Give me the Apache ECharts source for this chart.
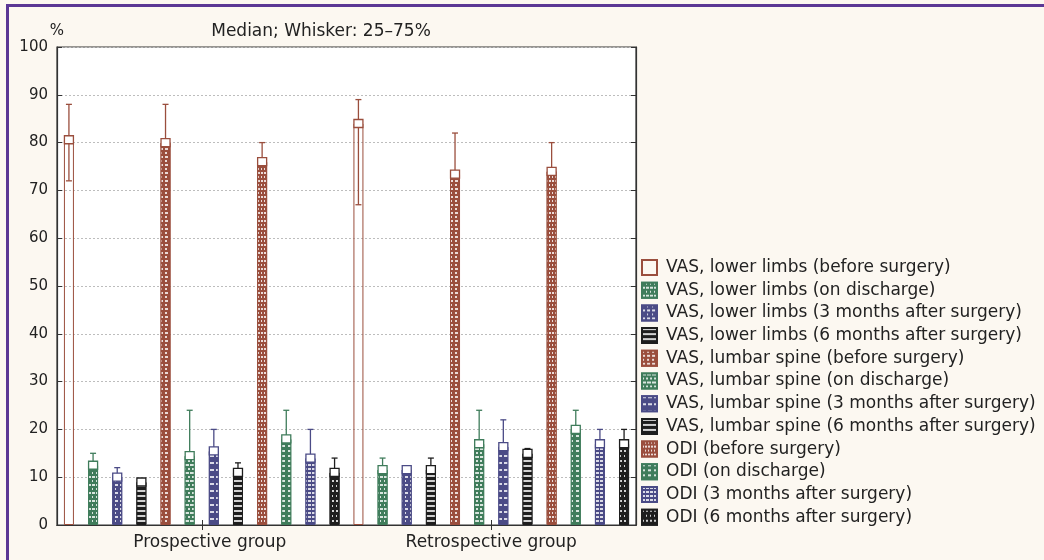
<!DOCTYPE html>
<html>
<head>
<meta charset="utf-8">
<script src="https://cdn.jsdelivr.net/npm/echarts@6/dist/echarts.min.js"></script>
<style>
html,body{margin:0;padding:0;background:#fcf8f1;}
#frame{position:absolute;left:6px;top:4px;width:1038px;height:556px;border-top:3px solid #5b3795;border-left:3px solid #5b3795;box-sizing:border-box;}
#chart{position:absolute;left:0;top:0;width:1044px;height:560px;}
</style>
</head>
<body>
<div id="frame"></div>
<div id="chart"></div>
<script>
// ---- data ----
const categories = ['Prospective group', 'Retrospective group'];
const seriesNames = [
  'VAS, lower limbs (before surgery)',
  'VAS, lower limbs (on discharge)',
  'VAS, lower limbs (3 months after surgery)',
  'VAS, lower limbs (6 months after surgery)',
  'VAS, lumbar spine (before surgery)',
  'VAS, lumbar spine (on discharge)',
  'VAS, lumbar spine (3 months after surgery)',
  'VAS, lumbar spine (6 months after surgery)',
  'ODI (before surgery)',
  'ODI (on discharge)',
  'ODI (3 months after surgery)',
  'ODI (6 months after surgery)'
];
const medianProspective = [80.6, 12.5, 10, 9, 80, 14.5, 15.5, 11, 76, 18, 14, 11];
const q1Prospective     = [72, 9, 7, 7, 72, 10, 11, 8, 70, 12, 10, 6];
const q3Prospective     = [88, 15, 12, 9, 88, 24, 20, 13, 80, 24, 20, 14];
const medianRetrospective = [84, 11.6, 11.6, 11.6, 73.4, 17, 16.4, 15, 74, 20, 17, 17];
const q1Retrospective     = [67, 9, 9, 9, 65, 12, 12, 12, 65, 15, 12, 12];
const q3Retrospective     = [89, 14, 11.6, 14, 82, 24, 22, 16, 80, 24, 20, 20];
const yTicks = [0, 10, 20, 30, 40, 50, 60, 70, 80, 90, 100];

// ---- styles ----
const BROWN = '#9a4e3d', GREEN = '#3f7c5b', NAVY = '#4b4b86', BLACK = '#1e1e1e';
const colors = [BROWN, GREEN, NAVY, BLACK, BROWN, GREEN, NAVY, BLACK, BROWN, GREEN, NAVY, BLACK];
const W = 'rgba(255,255,255,0.8)';
const decals = [
  null,
  {symbol:'rect', color:W, dashArrayX:[[3,1],[1,3]], dashArrayY:[1.5,1.5], symbolSize:1},
  {symbol:'rect', color:W, dashArrayX:[[3,2],[1,4]], dashArrayY:[1.5,2], symbolSize:1},
  {symbol:'rect', color:W, dashArrayX:[[12,0]], dashArrayY:[1.5,2.5], symbolSize:1},
  {symbol:'rect', color:W, dashArrayX:[[3,2],[2,3]], dashArrayY:[1.5,1.5], symbolSize:1},
  {symbol:'rect', color:W, dashArrayX:[[2,2],[4,1]], dashArrayY:[1.5,2], symbolSize:1},
  {symbol:'rect', color:W, dashArrayX:[[4,2]], dashArrayY:[2,5], symbolSize:1},
  {symbol:'rect', color:W, dashArrayX:[[12,0]], dashArrayY:[1.5,3], symbolSize:1},
  {symbol:'rect', color:W, dashArrayX:[[2,1],[1,2]], dashArrayY:[1.5,1.5], symbolSize:1},
  {symbol:'rect', color:W, dashArrayX:[[3,3]], dashArrayY:[1.5,3], symbolSize:1},
  {symbol:'rect', color:W, dashArrayX:[[3,1]], dashArrayY:[1.5,2], symbolSize:1},
  {symbol:'rect', color:W, dashArrayX:[[1,3],[2,2]], dashArrayY:[1.5,2.5], symbolSize:1}
];
const BAR_W = 10, SLOT = 24.15;
const FONT = 'DejaVu Sans';

const medians = [medianProspective, medianRetrospective];
const q1s = [q1Prospective, q1Retrospective];
const q3s = [q3Prospective, q3Retrospective];

const series = [];
seriesNames.forEach((name, i) => {
  series.push({
    name: name,
    type: 'bar',
    z: 2,
    barWidth: BAR_W,
    barGap: ((SLOT - BAR_W) / BAR_W * 100) + '%',
    data: categories.map((c, k) => medians[k][i]),
    itemStyle: {
      color: i === 0 ? 'rgba(255,255,255,0)' : colors[i],
      borderColor: colors[i],
      borderWidth: 1,
      decal: decals[i] || undefined
    },
    emphasis: {disabled: true}
  });
});
seriesNames.forEach((name, i) => {
  const col = colors[i];
  series.push({
    type: 'custom',
    z: 1,
    silent: true,
    encode: {x: 0, y: [1, 2]},
    data: categories.map((c, k) => [k, q1s[k][i], q3s[k][i]]),
    renderItem: function (params, api) {
      const c = api.value(0);
      const lo = api.coord([c, api.value(1)]);
      const hi = api.coord([c, api.value(2)]);
      const x = lo[0] + (i - 5.5) * SLOT;
      const st = {stroke: col, lineWidth: 1.3};
      return {type: 'group', children: [
        {type: 'line', shape: {x1: x, y1: lo[1], x2: x, y2: hi[1]}, style: st},
        {type: 'line', shape: {x1: x - 3, y1: hi[1], x2: x + 3, y2: hi[1]}, style: st},
        {type: 'line', shape: {x1: x - 3, y1: lo[1], x2: x + 3, y2: lo[1]}, style: st}
      ]};
    }
  });
  series.push({
    type: 'custom',
    z: 3,
    silent: true,
    encode: {x: 0, y: 1},
    data: categories.map((c, k) => [k, medians[k][i]]),
    renderItem: function (params, api) {
      const p = api.coord([api.value(0), api.value(1)]);
      const x = p[0] + (i - 5.5) * SLOT;
      return {type: 'rect', shape: {x: x - 4.5, y: p[1] - 4, width: 9, height: 8},
        style: {fill: '#fff', stroke: col, lineWidth: 1.3}};
    }
  });
});

const chart = echarts.init(document.getElementById('chart'), null, {renderer: 'canvas'});
chart.setOption({
  animation: false,
  backgroundColor: 'transparent',
  textStyle: {fontFamily: FONT},
  title: {
    text: 'Median; Whisker: 25–75%',
    left: 316, top: 18, textAlign: 'center',
    textStyle: {fontFamily: FONT, fontSize: 17, fontWeight: 'normal', color: '#222'}
  },
  legend: {
    orient: 'vertical',
    left: 641, top: 259,
    padding: 0,
    icon: 'rect',
    itemWidth: 15, itemHeight: 15,
    itemGap: 5.7,
    selectedMode: false,
    data: seriesNames,
    textStyle: {fontFamily: FONT, fontSize: 17, color: '#222', lineHeight: 15, padding: [0, 0, 0, 4]}
  },
  grid: {left: 57, right: 408, top: 47, bottom: 35, show: true, backgroundColor: '#fff', borderColor: '#333', borderWidth: 1.2},
  xAxis: [
    {
      type: 'category',
      data: categories.map((c, k) => k === 0 ? {value: c, textStyle: {padding: [0, 0, 0, 16]}} : c),
      position: 'bottom',
      axisLine: {show: true, lineStyle: {color: '#333', width: 1.2}},
      axisTick: {show: true, inside: true, alignWithLabel: true, length: 5, lineStyle: {color: '#333'}},
      axisLabel: {fontFamily: FONT, fontSize: 17, color: '#222', margin: 9},
      splitLine: {show: false}
    },
    {
      type: 'category', data: categories, position: 'top',
      axisLine: {show: true, lineStyle: {color: '#333', width: 1.2}},
      axisTick: {show: true, inside: true, alignWithLabel: true, length: 5, lineStyle: {color: '#333'}},
      axisLabel: {show: false},
      splitLine: {show: false}
    }
  ],
  yAxis: [
    {
      type: 'value', min: yTicks[0], max: yTicks[yTicks.length - 1], interval: 10,
      name: '%', nameLocation: 'end', nameGap: 8,
      nameTextStyle: {fontFamily: FONT, fontSize: 15, color: '#222', align: 'center'},
      axisLine: {show: true, lineStyle: {color: '#333', width: 1.2}},
      axisTick: {show: true, inside: true, length: 5, lineStyle: {color: '#333'}},
      axisLabel: {fontFamily: FONT, fontSize: 15, color: '#222', margin: 9},
      splitLine: {show: true, lineStyle: {type: [2, 2], color: '#bdbdbd', width: 1}}
    },
    {
      type: 'value', min: yTicks[0], max: yTicks[yTicks.length - 1], interval: 10, position: 'right',
      axisLine: {show: true, lineStyle: {color: '#333', width: 1.2}},
      axisTick: {show: true, inside: true, length: 5, lineStyle: {color: '#333'}},
      axisLabel: {show: false},
      splitLine: {show: false}
    }
  ],
  series: series
});
</script>
</body>
</html>
